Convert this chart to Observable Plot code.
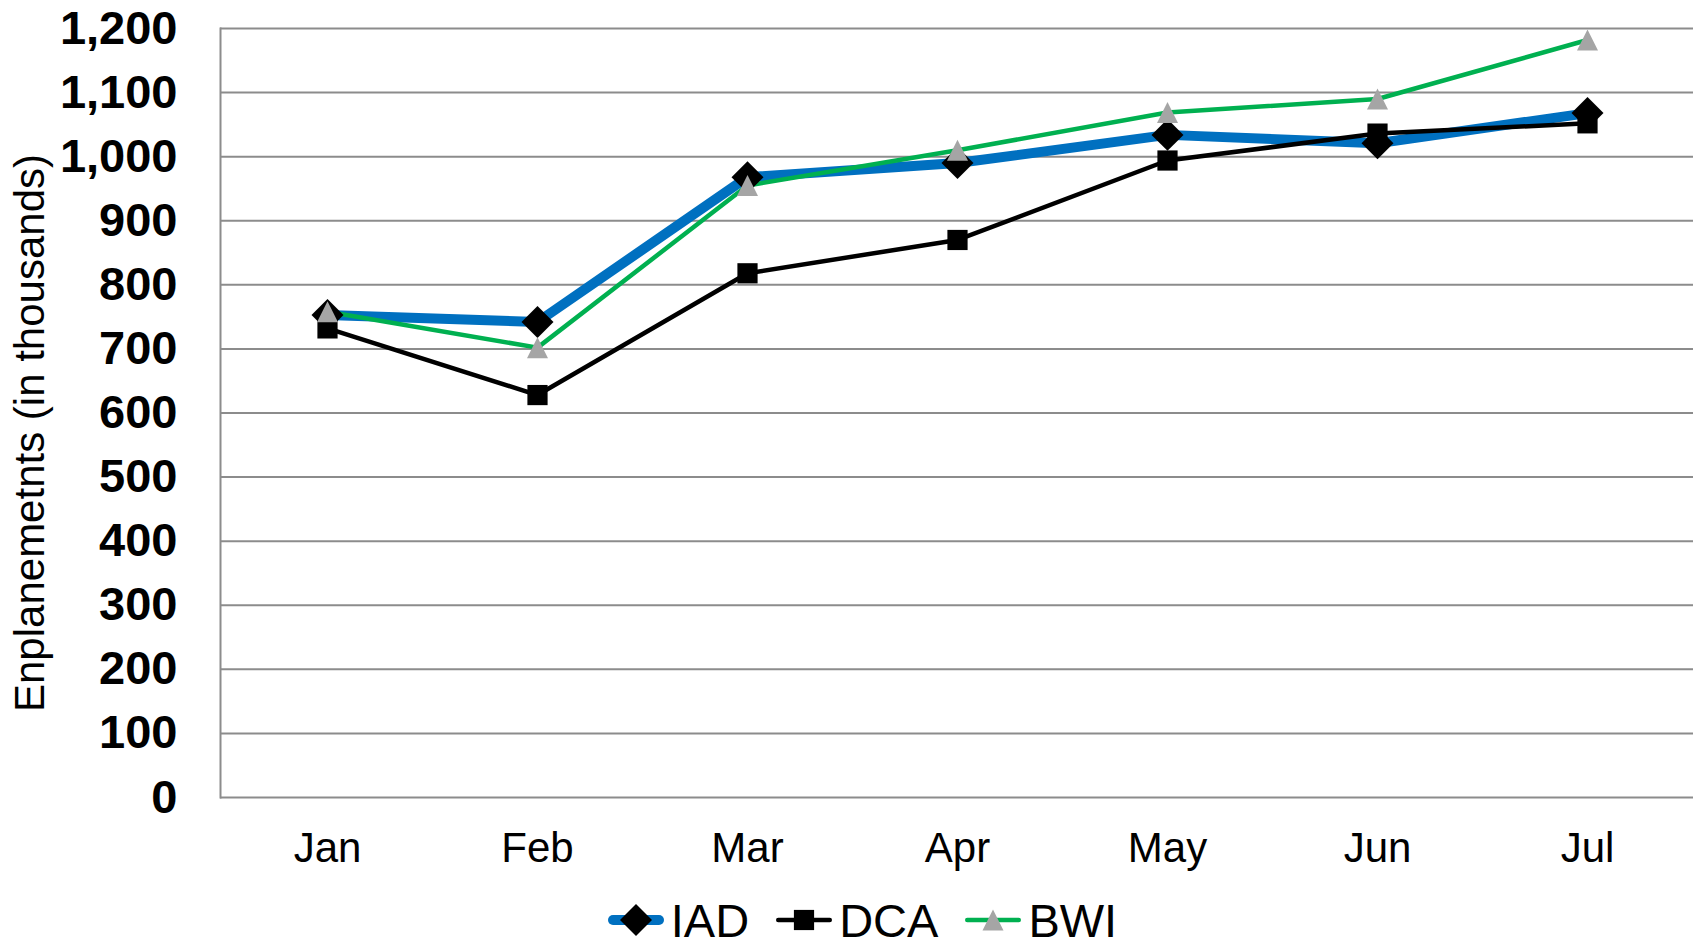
<!DOCTYPE html>
<html>
<head>
<meta charset="utf-8">
<script src="https://cdn.jsdelivr.net/npm/d3@7"></script>
<script src="https://cdn.jsdelivr.net/npm/@observablehq/plot@0.6"></script>
<style>
  html, body { margin: 0; padding: 0; background: #ffffff; }
  body { width: 1698px; height: 944px; position: relative; overflow: hidden; font-family: "Liberation Sans", Arial, sans-serif; color: #000; }
  #chart { position: absolute; left: 0; top: 0; }
  #ytitle { position: absolute; left: 30px; top: 433px; transform: translate(-50%, -50%) rotate(-90deg); font-size: 42px; white-space: nowrap; line-height: 1; }
  #legend { position: absolute; left: 0; top: 896px; width: 1698px; height: 48px; display: flex; justify-content: center; align-items: center; font-size: 47px; line-height: 1; padding-left: 26px; box-sizing: border-box; }
  .item { display: flex; align-items: center; margin: 0 13px; }
  .item svg { margin-right: 6px; }
</style>
</head>
<body>
<div id="chart"></div>
<div id="ytitle">Enplanemetnts (in thousands)</div>
<div id="legend"></div>
<script>
const months = ["Jan", "Feb", "Mar", "Apr", "May", "Jun", "Jul"];
const iad = [753, 742, 968, 990, 1034, 1021, 1068];
const dca = [732, 628, 818, 870, 994, 1036, 1052];
const bwi = [758, 702, 955, 1010, 1069, 1090, 1182];
const yTicks = [0, 100, 200, 300, 400, 500, 600, 700, 800, 900, 1000, 1100, 1200];
const seriesNames = ["IAD", "DCA", "BWI"];

const rows = months.map((m, i) => ({month: m, IAD: iad[i], DCA: dca[i], BWI: bwi[i]}));

// Excel-like triangle: width equals height, centred in its box
const boxTriangle = {
  draw(ctx, size) {
    const r = Math.sqrt(size / Math.PI);
    ctx.moveTo(0, -r);
    ctx.lineTo(r, r);
    ctx.lineTo(-r, r);
    ctx.closePath();
  }
};

const styles = {
  IAD: {stroke: "#0070C0", width: 10, symbol: d3.symbolDiamond2, r: 14.4, fill: "#000000"},
  DCA: {stroke: "#000000", width: 4.5, symbol: d3.symbolSquare, r: 11.4, fill: "#000000"},
  BWI: {stroke: "#00B050", width: 4.5, symbol: boxTriangle, r: 10.5, fill: "#A5A5A5"}
};

const font = "'Liberation Sans', Arial, sans-serif";

const chart = Plot.plot({
  width: 1698,
  height: 890,
  marginLeft: 220,
  marginRight: 5,
  marginTop: 28,
  marginBottom: 93,
  style: {fontFamily: font, background: "#ffffff", color: "#000000"},
  x: {type: "point", domain: months, padding: 0.5, label: null},
  y: {domain: [0, 1200], label: null},
  marks: [
    Plot.ruleY(yTicks, {stroke: "#8c8c8c", strokeWidth: 2}),
    Plot.frame({anchor: "left", stroke: "#8c8c8c", strokeWidth: 2}),
    Plot.axisY(yTicks, {tickSize: 0, tickPadding: 43, tickFormat: d3.format(","), fontSize: 47, fontWeight: "bold", fill: "#000000", label: null}),
    Plot.axisX({tickSize: 0, tickPadding: 35, fontSize: 42, fill: "#000000", label: null}),
    ...seriesNames.map(s => Plot.line(rows, {x: "month", y: s, stroke: styles[s].stroke, strokeWidth: styles[s].width, strokeLinejoin: "round", strokeLinecap: "round"})),
    ...seriesNames.map(s => Plot.dot(rows, {x: "month", y: s, symbol: styles[s].symbol, r: styles[s].r, fill: styles[s].fill, stroke: "none"}))
  ]
});
document.getElementById("chart").appendChild(chart);

// legend
const legend = d3.select("#legend");
seriesNames.forEach(s => {
  const st = styles[s];
  const item = legend.append("div").attr("class", "item");
  const svg = item.append("svg").attr("width", 58).attr("height", 34);
  svg.append("line").attr("x1", st.width / 2 + 1).attr("x2", 57 - st.width / 2).attr("y1", 17).attr("y2", 17)
    .attr("stroke", st.stroke).attr("stroke-width", st.width).attr("stroke-linecap", "round");
  svg.append("path").attr("transform", "translate(29,17)")
    .attr("d", d3.symbol(st.symbol, st.r * st.r * Math.PI)())
    .attr("fill", st.fill);
  item.append("span").text(s);
});
</script>
</body>
</html>
